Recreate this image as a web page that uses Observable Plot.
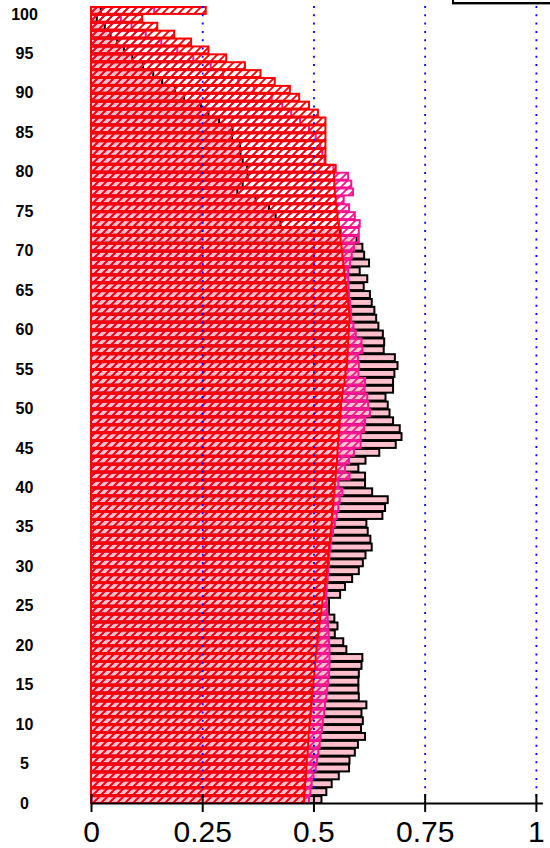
<!DOCTYPE html>
<html>
<head>
<meta charset="utf-8">
<script src="https://cdn.jsdelivr.net/npm/d3@7"></script>
<script src="https://cdn.jsdelivr.net/npm/@observablehq/plot@0.6"></script>
<style>
  html, body { margin: 0; padding: 0; background: #fff; overflow: hidden; }
  #wrap { position: relative; width: 550px; height: 848px; }
  #legendbox { position: absolute; left: 452px; top: -32px; width: 120px; height: 32px; border: 2px solid #000; box-shadow: 0 1px 0 #999; }
</style>
</head>
<body>
<div id="wrap"><div id="legendbox"></div></div>
<script>
// ---- data ----
const ages = d3.range(0, 101);
const yTicks = [0, 5, 10, 15, 20, 25, 30, 35, 40, 45, 50, 55, 60, 65, 70, 75, 80, 85, 90, 95, 100];
const xTicks = [0, 0.25, 0.5, 0.75, 1];
const xTickLabels = ["0", "0.25", "0.5", "0.75", "1"];
const gridTicks = [0.25, 0.5, 0.75, 1];

// pink bars with black outline
const blackSeries = [
  0.518, 0.529, 0.541, 0.557, 0.580, 0.581, 0.593, 0.600, 0.616, 0.607,
  0.611, 0.608, 0.619, 0.602, 0.601, 0.601, 0.602, 0.608, 0.610, 0.574,
  0.567, 0.548, 0.554, 0.547, 0.535, 0.535, 0.560, 0.571, 0.587, 0.602,
  0.611, 0.617, 0.631, 0.628, 0.622, 0.619, 0.655, 0.661, 0.667, 0.632,
  0.616, 0.616, 0.601, 0.617, 0.648, 0.685, 0.698, 0.694, 0.679, 0.671,
  0.667, 0.662, 0.679, 0.679, 0.682, 0.689, 0.683, 0.658, 0.659, 0.656,
  0.646, 0.641, 0.637, 0.631, 0.627, 0.613, 0.621, 0.604, 0.625, 0.614,
  0.610, 0.597, 0.561, 0.426, 0.415, 0.400, 0.370, 0.329, 0.341, 0.352,
  0.351, 0.341, 0.336, 0.335, 0.317, 0.318, 0.288, 0.264, 0.247, 0.209,
  0.189, 0.160, 0.140, 0.117, 0.093, 0.074, 0.059, 0.044, 0.031, 0.013,
  0.022
];

// magenta hatched bars
const magentaSeries = [
  0.490, 0.493, 0.496, 0.500, 0.505, 0.508, 0.511, 0.514, 0.516, 0.519,
  0.521, 0.524, 0.526, 0.529, 0.531, 0.533, 0.535, 0.536, 0.536, 0.536,
  0.535, 0.534, 0.533, 0.532, 0.531, 0.530, 0.529, 0.530, 0.532, 0.533,
  0.535, 0.536, 0.538, 0.540, 0.544, 0.548, 0.552, 0.556, 0.559, 0.565,
  0.556, 0.581, 0.571, 0.580, 0.591, 0.606, 0.606, 0.614, 0.616, 0.627,
  0.623, 0.621, 0.615, 0.616, 0.601, 0.602, 0.600, 0.610, 0.608, 0.595,
  0.590, 0.585, 0.584, 0.582, 0.580, 0.579, 0.578, 0.578, 0.582, 0.586,
  0.591, 0.602, 0.602, 0.604, 0.593, 0.580, 0.568, 0.589, 0.585, 0.578,
  0.545, 0.525, 0.520, 0.515, 0.505, 0.490, 0.470, 0.450, 0.430, 0.406,
  0.366, 0.331, 0.297, 0.269, 0.230, 0.194, 0.158, 0.123, 0.091, 0.067,
  0.142
];

// red hatched bars
const redSeries = [
  0.479, 0.480, 0.481, 0.483, 0.484, 0.485, 0.487, 0.488, 0.489, 0.491,
  0.492, 0.494, 0.495, 0.497, 0.498, 0.500, 0.502, 0.504, 0.505, 0.507,
  0.509, 0.511, 0.513, 0.515, 0.518, 0.520, 0.524, 0.526, 0.528, 0.530,
  0.532, 0.533, 0.535, 0.537, 0.539, 0.541, 0.542, 0.544, 0.545, 0.547,
  0.548, 0.550, 0.551, 0.553, 0.554, 0.555, 0.557, 0.558, 0.559, 0.561,
  0.562, 0.564, 0.566, 0.570, 0.572, 0.575, 0.576, 0.577, 0.578, 0.579,
  0.580, 0.581, 0.580, 0.578, 0.576, 0.574, 0.571, 0.569, 0.567, 0.565,
  0.563, 0.561, 0.559, 0.557, 0.554, 0.552, 0.550, 0.548, 0.547, 0.546,
  0.550, 0.527, 0.527, 0.527, 0.527, 0.527, 0.527, 0.510, 0.490, 0.468,
  0.447, 0.413, 0.381, 0.346, 0.304, 0.264, 0.225, 0.187, 0.149, 0.115,
  0.258
];

const table = ages.map((age, i) => ({
  age,
  black: blackSeries[i],
  magenta: magentaSeries[i],
  red: redSeries[i]
}));

// ---- chart ----
const W = 550, H = 848;
const mTop = 6, mBottom = 45, mLeft = 91, mRight = 7;
const frameH = H - mTop - mBottom;

const chart = Plot.plot({
  width: W,
  height: H,
  marginTop: mTop,
  marginBottom: mBottom,
  marginLeft: mLeft,
  marginRight: mRight,
  style: { fontFamily: "'Liberation Sans', Arial, sans-serif", color: "#000", background: "#fff" },
  x: { domain: [0, 1.016], label: null },
  y: { domain: [0, 101], label: null },
  marks: [
    Plot.rectX(table, { y: "age", x: "black", interval: 1, fill: "#ffc0cb", stroke: "#000", strokeWidth: 2 }),
    Plot.rectX(table, { y: "age", x: "magenta", interval: 1, fill: "url(#hatchMagenta)", stroke: "#ff1493", strokeWidth: 2 }),
    Plot.rectX(table, { y: "age", x: "red", interval: 1, fill: "url(#hatchRed)", stroke: "#ff0000", strokeWidth: 2 }),
    Plot.ruleX(gridTicks, { stroke: "#0000ff", strokeWidth: 1.8, strokeDasharray: "2,6.3" }),
    Plot.ruleY([0], { stroke: "#000", strokeWidth: 2 }),
    Plot.tickX(xTicks, { x: d => d, stroke: "#000", strokeWidth: 2, insetTop: frameH - 9 }),
    Plot.axisX(xTicks, {
      anchor: "bottom", label: null, tickSize: 9, tickPadding: 8, fontSize: 30, strokeWidth: 2,
      tickFormat: d => xTickLabels[xTicks.indexOf(d)]
    }),
    Plot.axisY(yTicks, {
      anchor: "left", label: null, tickSize: 0, tickPadding: 67, textAnchor: "middle",
      fontSize: 16, fontWeight: "bold"
    })
  ]
});

// hatch patterns
const svg = d3.select(chart);
const defs = svg.insert("defs", ":first-child");
function hatch(id, color) {
  const p = defs.append("pattern")
    .attr("id", id)
    .attr("patternUnits", "userSpaceOnUse")
    .attr("width", 8).attr("height", 8);
  p.append("path")
    .attr("d", "M-2,2 L2,-2 M0,8 L8,0 M6,10 L10,6")
    .attr("stroke", color)
    .attr("stroke-width", 1.9)
    .attr("fill", "none");
}
hatch("hatchRed", "#ff0000");
hatch("hatchMagenta", "#ff1493");

document.getElementById("wrap").prepend(chart);
</script>
</body>
</html>
